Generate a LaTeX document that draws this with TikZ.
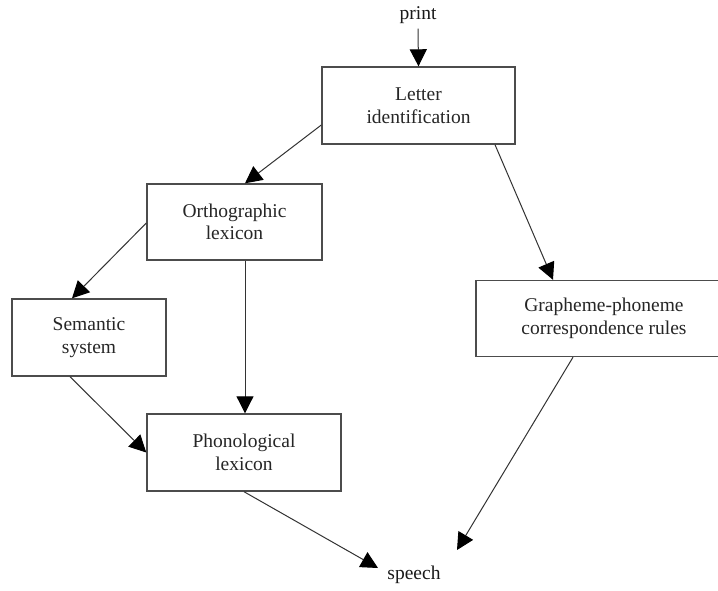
\documentclass[tikz,border=0pt]{standalone}
\usepackage{fontspec}
\setmainfont{Liberation Serif}
\usetikzlibrary{arrows.meta}
\begin{document}
\begin{tikzpicture}[x=1pt,y=-1pt,
  box/.style={draw=black!70,line width=1.4pt,fill=white,
    inner sep=0pt,align=center,text=black!85,
    font=\fontsize{19.5}{22.5}\selectfont},
  lbl/.style={inner sep=0pt,text=black!90,font=\fontsize{19.5}{22.5}\selectfont},
  link/.style={draw=black!80,line width=1pt,
    -{Triangle[length=17pt,width=17pt,color=black]}}]
  \useasboundingbox (0,0) rectangle (718,590);
  \clip (0,0) rectangle (718,590);
  \fill[white] (0,0) rectangle (718,590);

  % stages of the reading model
  \node[box,minimum width=193pt,minimum height=77pt] (let) at (418.5,105.5) {Letter\\identification};
  \node[box,minimum width=175pt,minimum height=76pt] (orth) at (234.5,222) {Orthographic\\lexicon};
  \node[box,minimum width=154pt,minimum height=77pt] (sem) at (89,337.5) {Semantic\\system};
  \node[box,minimum width=194pt,minimum height=77pt] (phon) at (244,452.5) {Phonological\\lexicon};
  \node[box,minimum width=256pt,minimum height=76pt] (gpc) at (604,318.5) {Grapheme-phoneme\\correspondence rules};

  % input and output
  \node[lbl] (print) at (418,15) {print};
  \node[lbl] (speech) at (414,575) {speech};
  \coordinate (speechin) at (378,568);
  \coordinate (speechgpc) at (457,550);

  % routes
  \draw[link] (print.south) ++(0,5) -- (let.north);
  \draw[link] ([yshift=-19.5pt]let.west) -- ([xshift=10.5pt]orth.north);
  \draw[link] ([xshift=76.5pt]let.south) -- ([xshift=-51pt]gpc.north);
  \draw[link] ([yshift=-1pt]orth.west) -- ([xshift=-17pt]sem.north);
  \draw[link] ([xshift=10.5pt]orth.south) -- ([xshift=10.5pt]orth.south |- phon.north);
  \draw[link] ([xshift=-19pt]sem.south) -- (phon.west);
  \draw[link] (phon.south) -- (speechin);
  \draw[link] ([xshift=-31pt]gpc.south) -- (speechgpc);
\end{tikzpicture}
\end{document}
